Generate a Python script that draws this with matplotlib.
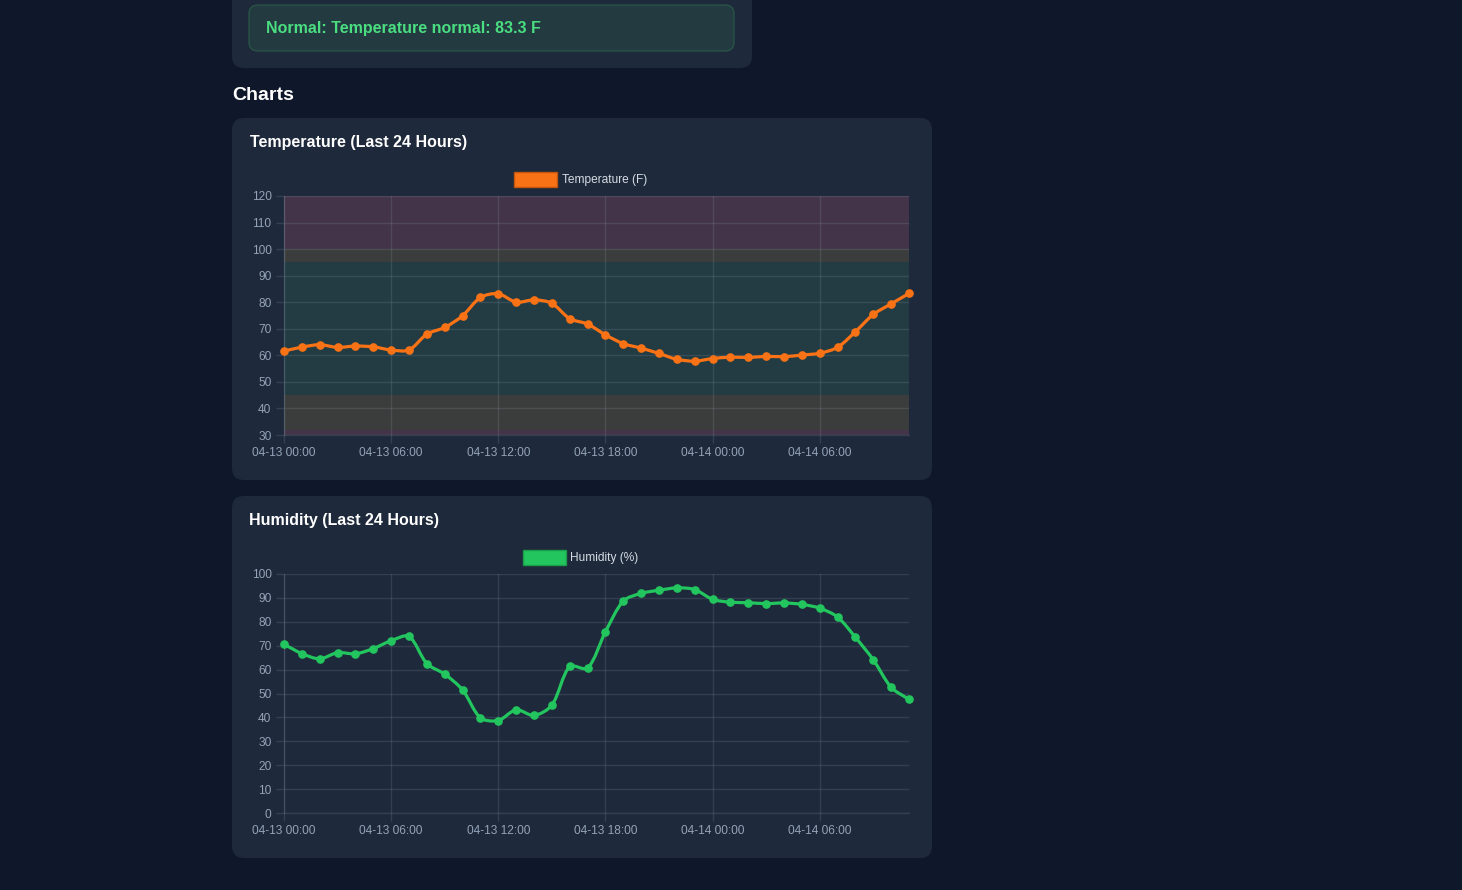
import numpy as np
import pandas as pd
import matplotlib
matplotlib.use("Agg")
import matplotlib.pyplot as plt
import matplotlib.dates as mdates
from matplotlib.patches import FancyBboxPatch, Rectangle, PathPatch
from matplotlib.path import Path

plt.rcParams['font.family'] = ['Liberation Sans', 'DejaVu Sans']

# ---------------- data ----------------
times = pd.date_range("2025-04-13 00:00", periods=36, freq="h")
temperature = [61.6, 63.1, 64.0, 63.0, 63.5, 63.2, 62.0, 62.0, 68.0, 70.5, 74.9, 81.8,
               83.2, 80.0, 80.9, 79.6, 73.8, 71.8, 67.7, 64.4, 62.7, 60.7, 58.5, 57.8,
               58.8, 59.3, 59.2, 59.6, 59.5, 60.1, 60.8, 63.0, 68.9, 75.4, 79.4, 83.3]
humidity = [70.6, 66.7, 64.5, 67.1, 66.6, 68.8, 72.1, 73.9, 62.5, 58.1, 51.5, 39.8,
            38.7, 43.2, 40.8, 45.1, 61.3, 60.6, 75.8, 88.7, 91.9, 93.2, 94.2, 93.5,
            89.4, 88.2, 88.0, 87.6, 87.9, 87.3, 85.7, 82.0, 73.5, 64.1, 52.6, 47.5]
# temperature zones: (low, high, kind)
temp_zones = [(30, 32, "danger"), (32, 45, "warning"), (45, 95, "normal"),
              (95, 100, "warning"), (100, 120, "danger")]
temp_label = "Temperature (F)"
hum_label = "Humidity (%)"
temp_title = "Temperature (Last 24 Hours)"
hum_title = "Humidity (Last 24 Hours)"
alert_text = "Normal: Temperature normal: 83.3 F"
section_title = "Charts"

# ---------------- style ----------------
W, H = 1462, 890
BG = "#0f172a"
CARD = "#1e293b"
GRID_RGB = (148/255, 163/255, 184/255)
GRID_ALPHA = 0.18
GRID_SOLID = "#344155"
TICK_C = "#94a3b8"
ORANGE = "#f97316"
GREEN = "#22c55e"
zone_colors = {"danger": "#433449", "warning": "#3a3d3b", "normal": "#233b42"}

fig = plt.figure(figsize=(W/100, H/100), dpi=100, facecolor=BG)
bg = fig.add_axes([0, 0, 1, 1])
bg.set_xlim(0, W)
bg.set_ylim(H, 0)
bg.axis("off")
bg.set_facecolor(BG)


def card(x0, y0, x1, y1, r, fc, ec="none", lw=0):
    p = FancyBboxPatch((x0, y0), x1 - x0, y1 - y0,
                       boxstyle=f"round,pad=0,rounding_size={r}",
                       fc=fc, ec=ec, lw=lw, zorder=1)
    bg.add_patch(p)


# top status card + alert
card(232, -30, 752, 68, 12, CARD)
card(249, 5, 734, 51, 9, "#233a41", ec="#285446", lw=1)
bg.text(266, 28, alert_text, color="#4ade80", fontsize=11.5, fontweight="bold",
        va="center", ha="left", zorder=3)
bg.text(232, 95, section_title, color="white", fontsize=14, fontweight="bold",
        va="center", ha="left", zorder=3)

# chart cards
card(232, 118, 932, 480, 12, CARD)
card(232, 496, 932, 858, 12, CARD)
bg.text(250, 143, temp_title, color="white", fontsize=11.5, fontweight="bold",
        va="center", ha="left", zorder=3)
bg.text(249, 521, hum_title, color="white", fontsize=11.5, fontweight="bold",
        va="center", ha="left", zorder=3)

# legends (manual, Chart.js style)
bg.add_patch(Rectangle((514, 172), 43, 15, fc=ORANGE, ec="#c2560f", lw=1, zorder=3))
bg.text(562, 179.5, temp_label, color="#d5dbe3", fontsize=8.6, va="center", ha="left", zorder=3)
bg.add_patch(Rectangle((523, 550), 43, 15, fc=GREEN, ec="#1a9e4a", lw=1, zorder=3))
bg.text(570, 557.5, hum_label, color="#d5dbe3", fontsize=8.6, va="center", ha="left", zorder=3)


def make_axes(x0, y0, x1, y1):
    ax = fig.add_axes([x0 / W, 1 - y1 / H, (x1 - x0) / W, (y1 - y0) / H])
    ax.set_facecolor("none")
    return ax


def style_axes(ax, ymin, ymax, step):
    ax.set_xlim(mdates.date2num(times[0]), mdates.date2num(times[-1]))
    ax.set_ylim(ymin, ymax)
    ax.set_yticks(np.arange(ymin, ymax + 0.1, step))
    ax.xaxis.set_major_locator(mdates.HourLocator(byhour=[0, 6, 12, 18]))
    ax.xaxis.set_major_formatter(mdates.DateFormatter("%m-%d %H:%M"))
    ax.set_axisbelow(True)
    ax.grid(True, color=GRID_RGB, alpha=GRID_ALPHA, lw=1)
    for s in ["top", "right"]:
        ax.spines[s].set_visible(False)
    for s in ["left", "bottom"]:
        ax.spines[s].set_color(GRID_RGB)
        ax.spines[s].set_alpha(GRID_ALPHA)
        ax.spines[s].set_linewidth(1)
    ax.tick_params(axis="both", color=GRID_SOLID, length=6, width=1, labelcolor=TICK_C,
                   labelsize=8.6)
    ax.tick_params(axis="x", pad=3)
    ax.tick_params(axis="y", pad=3)


def smooth_line(ax, xs, ys, color, t=0.3):
    P = ax.transData.transform(np.column_stack([xs, ys]))
    n = len(P)
    cpp = np.zeros_like(P)
    cpn = np.zeros_like(P)
    for i in range(n):
        prev = P[i - 1] if i > 0 else P[i]
        nxt = P[i + 1] if i < n - 1 else P[i]
        d01 = np.hypot(*(P[i] - prev))
        d12 = np.hypot(*(nxt - P[i]))
        s = d01 + d12
        s01 = d01 / s if s else 0
        s12 = d12 / s if s else 0
        cpp[i] = P[i] - t * s01 * (nxt - prev)
        cpn[i] = P[i] + t * s12 * (nxt - prev)
    verts = [P[0]]
    codes = [Path.MOVETO]
    for i in range(n - 1):
        verts += [cpn[i], cpp[i + 1], P[i + 1]]
        codes += [Path.CURVE4] * 3
    verts = ax.transData.inverted().transform(np.array(verts))
    ax.add_patch(PathPatch(Path(verts, codes), fc="none", ec=color, lw=2.3,
                           zorder=3, clip_on=False, capstyle="round", joinstyle="round"))
    ax.plot(xs, ys, ls="none", marker="o", ms=5.2, color=color, mec=color,
            zorder=4, clip_on=False)


x = mdates.date2num(times)

# temperature chart
ax1 = make_axes(284, 196, 909, 435)
style_axes(ax1, 30, 120, 10)
for lo, hi, kind in temp_zones:
    ax1.axhspan(lo, hi, color=zone_colors[kind], zorder=0.1, lw=0)
smooth_line(ax1, x, temperature, ORANGE)

# humidity chart
ax2 = make_axes(284, 574, 909, 813)
style_axes(ax2, 0, 100, 10)
smooth_line(ax2, x, humidity, GREEN)

fig.savefig("out.png", dpi=100, facecolor=BG)
